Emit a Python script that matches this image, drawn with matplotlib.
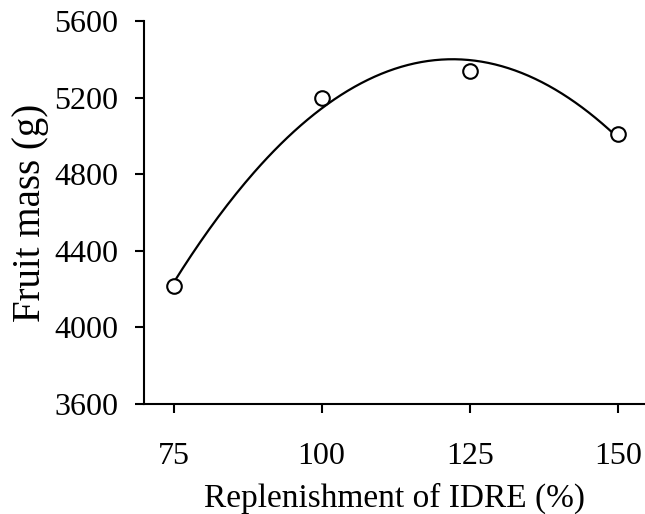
import numpy as np
import matplotlib
matplotlib.use("Agg")
import matplotlib.pyplot as plt

# Replenishment of IDRE (%) vs fruit mass (g)
idre = [75, 100, 125, 150]
fruit_mass = [4215, 5200, 5340, 5010]
xticks = [75, 100, 125, 150]
yticks = [3600, 4000, 4400, 4800, 5200, 5600]

plt.rcParams["font.family"] = ["Liberation Serif", "DejaVu Serif"]

fig = plt.figure(figsize=(6.45, 5.14), dpi=100)
ax = fig.add_axes([0.2233, 0.214, 0.7767, 0.745])

# quadratic fit line through the points
coef = np.polyfit(idre, fruit_mass, 2)
xs = np.linspace(min(idre), max(idre), 200)
ax.plot(xs, np.polyval(coef, xs), color="black", lw=1.6)

ax.plot(idre, fruit_mass, "o", mfc="white", mec="black", ms=10.5, mew=1.5)

ax.set_xlim(70, 154.6)
ax.set_ylim(3600, 5600)
ax.set_xticks(xticks)
ax.set_yticks(yticks)
ax.spines["top"].set_visible(False)
ax.spines["right"].set_visible(False)
ax.spines["left"].set_linewidth(1.5)
ax.spines["bottom"].set_linewidth(1.5)
ax.tick_params(axis="both", length=6.5, width=1.5, labelsize=23)
ax.tick_params(axis="y", pad=12)
ax.tick_params(axis="x", pad=21)

ax.set_xlabel("Replenishment of IDRE (%)", fontsize=24, labelpad=8)
ax.set_ylabel("Fruit mass (g)", fontsize=28, labelpad=4)

fig.savefig("out.png", dpi=100)
